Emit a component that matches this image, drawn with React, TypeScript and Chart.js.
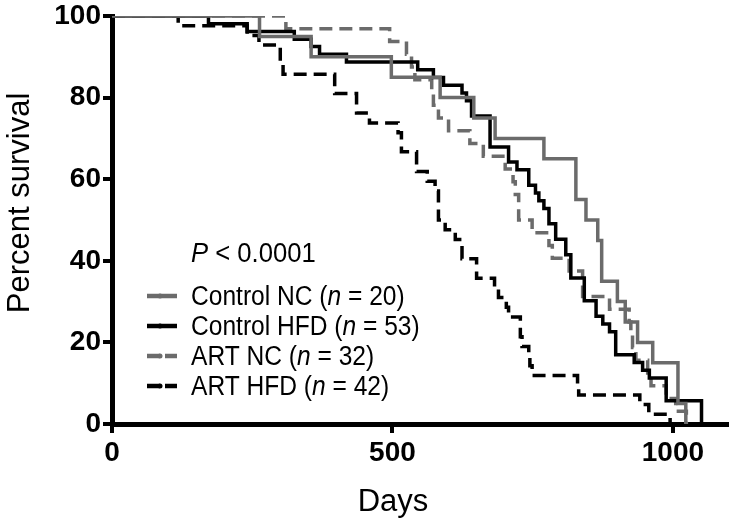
import React, { useEffect, useRef } from 'react';
import { Chart, registerables } from 'chart.js';

Chart.register(...registerables);

// ---- data (days, percent survival) ----
const ctrlNcDays = [0, 263, 355, 498, 585, 645, 683, 770, 827, 845, 866, 873, 901, 915, 937, 964, 1009, 1023];
const ctrlNcSurv = [100, 95, 90, 85, 80, 75, 70, 65, 55, 50, 45, 35, 30, 25, 20, 15, 5, 0];

const ctrlHfdDays = [0, 172, 241, 325, 355, 370, 418, 545, 573, 591, 624, 632, 641, 674, 707, 722, 743, 755, 761, 770, 779, 791, 809, 818, 842, 863, 875, 887, 898, 931, 946, 958, 988, 1051];
const ctrlHfdSurv = [100, 98.1, 96.2, 94.3, 92.5, 90.6, 88.7, 86.8, 84.9, 83.0, 81.1, 79.2, 75.5, 67.9, 64.2, 62.3, 58.5, 56.6, 54.7, 52.8, 49.1, 45.3, 41.5, 35.8, 30.2, 26.4, 24.5, 22.6, 17.0, 15.1, 13.2, 11.3, 5.7, 0];

const artNcDays = [0, 310, 495, 525, 534, 540, 570, 573, 582, 600, 638, 662, 701, 715, 719, 725, 749, 779, 785, 815, 839, 887, 922, 925, 928, 934, 955, 961, 988, 1005, 1024];
const artNcSurv = [100, 96.9, 93.75, 90.6, 87.5, 84.4, 81.25, 78.1, 75, 71.9, 68.75, 65.6, 62.5, 59.4, 56.25, 50, 46.9, 43.75, 40.6, 37.5, 31.25, 28.1, 25, 21.9, 18.75, 15.6, 12.5, 9.4, 6.25, 3.1, 0];

const artHfdDays = [0, 118, 241, 262, 300, 305, 397, 436, 459, 510, 516, 543, 562, 576, 582, 594, 612, 624, 650, 682, 689, 703, 707, 728, 731, 743, 745, 749, 830, 832, 941, 957, 995];
const artHfdSurv = [100, 97.6, 95.2, 92.9, 88.1, 85.7, 81.0, 76.2, 73.8, 71.4, 66.7, 61.9, 59.5, 57.1, 50, 47.6, 45.2, 40.5, 35.7, 33.3, 31.0, 28.6, 26.2, 21.4, 19.0, 16.7, 14.3, 11.9, 9.5, 7.1, 4.8, 2.4, 0];

const seriesNames = ['Control NC', 'Control HFD', 'ART NC', 'ART HFD'];
const seriesN = [20, 53, 32, 42];
const xTickValues = [0, 500, 1000];
const yTickValues = [0, 20, 40, 60, 80, 100];
const pValueText = '< 0.0001';
const xTitle = 'Days';
const yTitle = 'Percent survival';

const GRAY = '#6b6b6b';
const BLACK = '#000000';
const FONT = "'Liberation Sans', Arial, Helvetica, sans-serif";

const toPoints = (xs: number[], ys: number[]) => xs.map((x, i) => ({ x, y: ys[i] }));

const styles = [
  { color: GRAY, dash: [] as number[] },
  { color: BLACK, dash: [] as number[] },
  { color: GRAY, dash: [13, 7] },
  { color: BLACK, dash: [13, 7] },
];

// draw text horizontally condensed by factor sx, starting at x (left aligned)
function condensedText(ctx: CanvasRenderingContext2D, text: string, x: number, y: number, sx: number) {
  ctx.save();
  ctx.translate(x, y);
  ctx.scale(sx, 1);
  ctx.fillText(text, 0, 0);
  ctx.restore();
  return ctx.measureText(text).width * sx;
}

const overlayPlugin = {
  id: 'overlayTexts',
  afterDraw(chart: any) {
    const ctx: CanvasRenderingContext2D = chart.ctx;
    ctx.save();
    ctx.fillStyle = '#000';
    ctx.textBaseline = 'alphabetic';

    // x title
    ctx.font = `31px ${FONT}`;
    ctx.textAlign = 'center';
    ctx.fillText(xTitle, 393, 511);

    // y title
    ctx.save();
    ctx.translate(29, 203);
    ctx.rotate(-Math.PI / 2);
    ctx.textAlign = 'center';
    ctx.fillText(yTitle, 0, 0);
    ctx.restore();

    ctx.textAlign = 'left';
    // p value
    const fs = 27;
    let x = 191;
    ctx.font = `italic ${fs}px ${FONT}`;
    x += condensedText(ctx, 'P', x, 262, 0.95);
    ctx.font = `${fs}px ${FONT}`;
    condensedText(ctx, ' ' + pValueText, x, 262, 0.95);

    // legend
    const rowBase = [305, 335, 365, 395];
    const sx = 0.91;
    seriesNames.forEach((name, i) => {
      const st = styles[i];
      const cy = rowBase[i] - 9;
      ctx.strokeStyle = st.color;
      ctx.fillStyle = st.color;
      ctx.lineCap = 'butt';
      ctx.setLineDash([]);
      ctx.lineWidth = 4.5;
      if (st.dash.length === 0) {
        ctx.beginPath();
        ctx.moveTo(147, cy);
        ctx.lineTo(177, cy);
        ctx.stroke();
      } else {
        ctx.beginPath();
        ctx.moveTo(147, cy);
        ctx.lineTo(160, cy);
        ctx.moveTo(165, cy);
        ctx.lineTo(177, cy);
        ctx.stroke();
      }
      ctx.beginPath();
      ctx.arc(160, cy, 2.5, 0, Math.PI * 2);
      ctx.fill();

      ctx.fillStyle = '#000';
      let tx = 191;
      ctx.font = `${fs}px ${FONT}`;
      tx += condensedText(ctx, `${name} (`, tx, rowBase[i], sx);
      ctx.font = `italic ${fs}px ${FONT}`;
      tx += condensedText(ctx, 'n', tx, rowBase[i], sx);
      ctx.font = `${fs}px ${FONT}`;
      condensedText(ctx, ` = ${seriesN[i]})`, tx, rowBase[i], sx);
    });
    ctx.restore();
  },
};

export default function App() {
  const ref = useRef<HTMLCanvasElement | null>(null);
  useEffect(() => {
    if (!ref.current) return;
    const data = [
      toPoints(ctrlNcDays, ctrlNcSurv),
      toPoints(ctrlHfdDays, ctrlHfdSurv),
      toPoints(artNcDays, artNcSurv),
      toPoints(artHfdDays, artHfdSurv),
    ];
    const tickFont = { family: FONT, size: 28, weight: 'bold' as const, lineHeight: 1 };
    const chart = new Chart(ref.current, {
      type: 'line',
      data: {
        datasets: data.map((d, i) => ({
          label: `${seriesNames[i]} (n = ${seriesN[i]})`,
          data: d,
          borderColor: styles[i].color,
          borderDash: styles[i].dash,
          borderWidth: 3.5,
          pointRadius: 0,
          stepped: 'before' as const,
          fill: false,
        })),
      },
      options: {
        responsive: false,
        animation: false,
        devicePixelRatio: 1,
        layout: { padding: { top: 15, right: 0, left: 0, bottom: 0 } },
        plugins: { legend: { display: false }, tooltip: { enabled: false } },
        scales: {
          x: {
            type: 'linear',
            min: 0,
            max: 1100,
            afterBuildTicks: (s: any) => { s.ticks = xTickValues.map((v) => ({ value: v })); },
            afterFit: (s: any) => { s.height = 99; },
            border: { display: true, color: '#000', width: 5 },
            grid: { display: true, drawOnChartArea: false, drawTicks: true, tickLength: 9, lineWidth: 4, color: '#000' },
            ticks: { font: tickFont, color: '#000', padding: 6, maxRotation: 0, autoSkip: false, callback: (v: any) => String(v) },
          },
          y: {
            type: 'linear',
            min: 0,
            max: 100,
            afterBuildTicks: (s: any) => { s.ticks = yTickValues.map((v) => ({ value: v })); },
            afterFit: (s: any) => { s.width = 112; },
            border: { display: true, color: '#000', width: 5 },
            grid: { display: true, drawOnChartArea: false, drawTicks: true, tickLength: 9, lineWidth: 4, color: '#000' },
            ticks: { font: tickFont, color: '#000', padding: 2, autoSkip: false, callback: (v: any) => String(v) },
          },
        },
      },
      plugins: [overlayPlugin],
    });
    return () => chart.destroy();
  }, []);
  return (
    <div style={{ position: 'absolute', left: 0, top: 0, width: 729, height: 523 }}>
      <canvas ref={ref} width={729} height={523} style={{ width: 729, height: 523, display: 'block' }} />
    </div>
  );
}
